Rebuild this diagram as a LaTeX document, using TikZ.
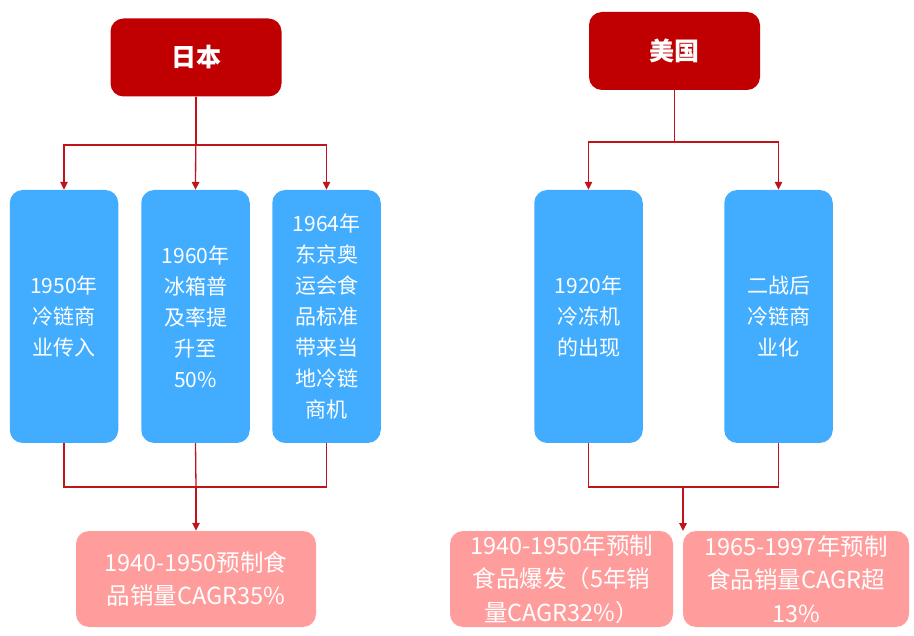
\documentclass[tikz,border=0pt]{standalone}
\usepackage{fontspec}
\setmainfont{Noto Sans CJK SC}
\usetikzlibrary{arrows.meta}
\definecolor{headred}{HTML}{C00000}
\definecolor{stepblue}{HTML}{42ADFF}
\definecolor{resultpink}{HTML}{FF9C9C}
\definecolor{linkred}{HTML}{C0141C}
\tikzset{
  box/.style={rectangle, rounded corners=13pt, inner sep=0pt, align=center, text=white},
  headbox/.style={box, fill=headred, minimum width=171pt, minimum height=78pt,
    font=\fontsize{25}{28}\selectfont\bfseries},
  stepbox/.style={box, fill=stepblue, minimum width=108.5pt, minimum height=253pt,
    font=\fontsize{21}{31}\selectfont},
  resultbox/.style={box, fill=resultpink, minimum height=96pt,
    font=\fontsize{23.5}{33.5}\selectfont},
  link/.style={draw=linkred, line width=1.3pt},
  linkarrow/.style={link, -{Triangle[length=8pt,width=7.5pt]}},
}
\begin{document}
\begin{tikzpicture}[x=1pt,y=-1pt]
\useasboundingbox (0,0) rectangle (914,636);

% ---- Japan ----
\node[headbox] (jp) at (196,57.5) {日本};
\node[stepbox] (j1) at (64,316.5) {1950年\\冷链商\\业传入};
\node[stepbox] (j2) at (195.5,316.5) {1960年\\冰箱普\\及率提\\升至\\50\%};
\node[stepbox] (j3) at (326.5,316.5) {1964年\\东京奥\\运会食\\品标准\\带来当\\地冷链\\商机};
\node[resultbox, minimum width=240pt] (jr) at (196,579) {1940-1950预制食\\品销量CAGR35\%};

\coordinate (jtop) at (196,145);
\coordinate (jbot) at (196,487);
\draw[link] (jp.south) -- (jtop);
\draw[linkarrow] (jtop) -| (j1.north);
\draw[linkarrow] (jtop) -| (j3.north);
\draw[linkarrow] (jp.south) -- (j2.north);
\draw[link] (j1.south) -- (j1.south |- jbot) -- (j3.south |- jbot) -- (j3.south);
\draw[link] (j2.south) -- (jbot);
\draw[linkarrow] (jbot) -- (jr.north);

% ---- USA ----
\node[headbox] (us) at (674.5,51) {美国};
\node[stepbox] (u1) at (588.5,316.5) {1920年\\冷冻机\\的出现};
\node[stepbox] (u2) at (778.5,316.5) {二战后\\冷链商\\业化};
\node[resultbox, minimum width=223pt] (ur1) at (561.5,579) {1940-1950年预制\\食品爆发（5年销\\量CAGR32\%）};
\node[resultbox, minimum width=226pt] (ur2) at (796,579) {1965-1997年预制\\食品销量CAGR超\\13\%};

\coordinate (utop) at (674.5,142);
\coordinate (ubot) at (683,487);
\coordinate (uend) at (683,531);
\draw[link] (us.south) -- (utop);
\draw[linkarrow] (utop) -| (u1.north);
\draw[linkarrow] (utop) -| (u2.north);
\draw[link] (u1.south) -- (u1.south |- ubot) -- (u2.south |- ubot) -- (u2.south);
\draw[linkarrow] (ubot) -- (uend);
\end{tikzpicture}
\end{document}
